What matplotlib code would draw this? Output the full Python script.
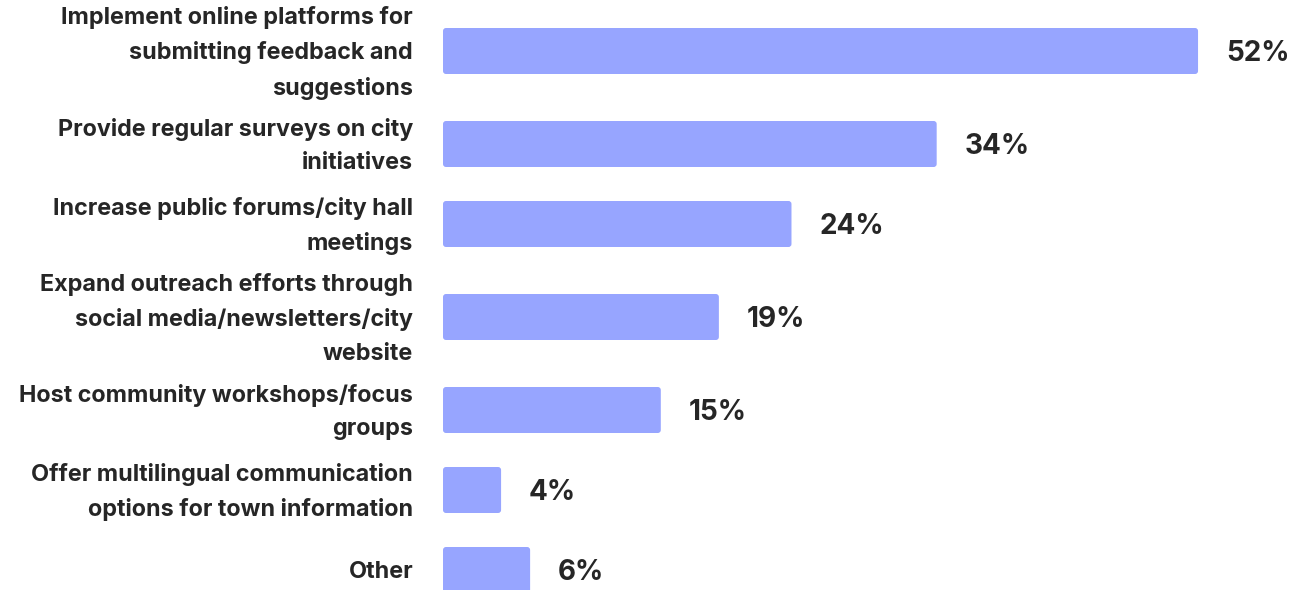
import matplotlib
matplotlib.use("Agg")
import matplotlib.pyplot as plt
from matplotlib.patches import FancyBboxPatch

plt.rcParams['font.family'] = ['Inter', 'DejaVu Sans']

labels = [
    "Implement online platforms for\nsubmitting feedback and\nsuggestions",
    "Provide regular surveys on city\ninitiatives",
    "Increase public forums/city hall\nmeetings",
    "Expand outreach efforts through\nsocial media/newsletters/city\nwebsite",
    "Host community workshops/focus\ngroups",
    "Offer multilingual communication\noptions for town information",
    "Other",
]
values = [52, 34, 24, 19, 15, 4, 6]
value_labels = [f"{v}%" for v in values]

W, H = 1316, 590
bar_color = "#97a5ff"
text_color = "#262626"
px_per_pct = 14.52
bar_h = 46
line_h = 35

# slot heights depend on how many lines the label needs
centers = []
top = -2
for lab in labels:
    slot = max(80, line_h * (lab.count("\n") + 1) + 1)
    centers.append(top + slot / 2)
    top += slot

fig = plt.figure(figsize=(W / 100, H / 100), dpi=100)
x0 = 443
ax = fig.add_axes([x0 / W, 0, (W - x0) / W, 1])
ax.set_xlim(0, (W - x0) / px_per_pct)
ax.set_ylim(H, 0)
ax.axis("off")

r = 3 / px_per_pct
for c, v, lab, vl in zip(centers, values, labels, value_labels):
    patch = FancyBboxPatch((0, c - bar_h / 2), v, bar_h,
                           boxstyle=f"round,pad=0,rounding_size={r}",
                           mutation_aspect=px_per_pct,
                           fc=bar_color, ec="none")
    ax.add_patch(patch)
    ax.annotate(lab, (0, c), xytext=(-30 * 0.72, -2 * 0.72), textcoords="offset points",
                ha="right", va="center", fontsize=16.8, fontweight="bold",
                color=text_color, linespacing=1.68, annotation_clip=False)
    ax.annotate(vl, (v, c), xytext=(28 * 0.72, -2.5 * 0.72), textcoords="offset points",
                ha="left", va="center", fontsize=20.1, fontweight="bold",
                color=text_color, annotation_clip=False)

fig.savefig("out.png", dpi=100)
